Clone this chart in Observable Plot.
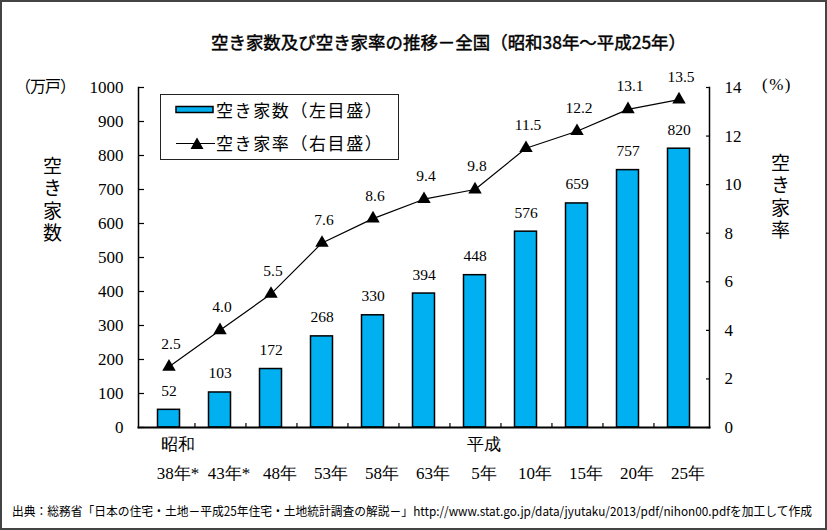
<!DOCTYPE html>
<html><head><meta charset="utf-8">
<script src="https://cdn.jsdelivr.net/npm/d3@7"></script>
<script src="https://cdn.jsdelivr.net/npm/@observablehq/plot@0.6"></script>
<style>
body{margin:0;background:#fff;}
#wrap{position:relative;width:827px;height:530px;overflow:hidden;font-family:"Noto Sans CJK JP","Noto Sans",sans-serif;color:#000;}
#border{position:absolute;left:0;top:0;width:827px;height:530px;box-sizing:border-box;border:2px solid #444;pointer-events:none;}
.abs{position:absolute;white-space:nowrap;}
#title{left:211px;top:30px;line-height:24px;font-size:17.5px;font-weight:normal;-webkit-text-stroke:0.45px #000;transform-origin:left center;}
#footer{left:12px;top:502px;line-height:18px;font-size:12.5px;transform-origin:left center;}
.vert{font-size:19px;line-height:24px;writing-mode:vertical-rl;text-orientation:upright;letter-spacing:3.5px;}
#legend{left:160px;top:94px;width:239px;height:66px;box-sizing:border-box;border:1.5px solid #222;background:#fff;}
.lt{font-size:17px;line-height:22px;letter-spacing:1.6px;}
</style></head><body>
<div id="wrap">
  <div id="title" class="abs">空き家数及び空き家率の推移－全国（昭和38年～平成25年）</div>
  <div id="chart" class="abs" style="left:0;top:60px"></div>
  <div class="abs" style="left:15px;top:74px;font-size:16px;line-height:22px;letter-spacing:-1px">（万戸）</div>
  <div class="abs" style="left:762px;top:74px;font-size:17px;line-height:22px;font-family:'Liberation Serif',serif;letter-spacing:1.5px">(%)</div>
  <div class="abs vert" style="left:40px;top:156px">空き家数</div>
  <div class="abs vert" style="left:768px;top:153px">空き家率</div>
  <div id="legend" class="abs">
    <svg class="abs" style="left:0;top:0" width="236" height="63">
      <rect x="15" y="11.5" width="37" height="6" fill="#00B0F0" stroke="#000" stroke-width="1.5"></rect>
      <line x1="15" x2="54" y1="48.5" y2="48.5" stroke="#000" stroke-width="1.2"></line>
      <path d="M36,42.5 L42.5,54 L29.5,54 Z" fill="#000"></path>
    </svg>
    <div class="abs lt" style="left:55px;top:4px">空き家数（左目盛）</div>
    <div class="abs lt" style="left:55px;top:37px">空き家率（右目盛）</div>
  </div>
  <div id="footer" class="abs">出典：総務省「日本の住宅・土地－平成25年住宅・土地統計調査の解説－」http://www.stat.go.jp/data/jyutaku/2013/pdf/nihon00.pdfを加工して作成</div>
  <div id="border"></div>
</div>
<script>
const years = ["38年*","43年*","48年","53年","58年","63年","5年","10年","15年","20年","25年"];
const eras = ["昭和","","","","","","平成","","","",""];
const vacantHomes = [52,103,172,268,330,394,448,576,659,757,820];
const vacancyRate = [2.5,4.0,5.5,7.6,8.6,9.4,9.8,11.5,12.2,13.1,13.5];
const leftTicks = [0,100,200,300,400,500,600,700,800,900,1000];
const rightTicks = [0,2,4,6,8,10,12,14];
const leftMax = 1000, rightMax = 14;

const data = years.map((y,i)=>({year:y, era:eras[i], homes:vacantHomes[i], rate:vacancyRate[i]}));
const toLeft = r => r * leftMax / rightMax;

const W = 827, H = 430, mL = 138, mR = 118, mT = 27, mB = 63;
const step = (W - mL - mR) / years.length;
const serif = "'Liberation Serif','Times New Roman',serif";

const chart = Plot.plot({
  width: W, height: H,
  marginLeft: mL, marginRight: mR, marginTop: mT, marginBottom: mB,
  style: {background: "transparent", color: "#000"},
  x: {domain: years, padding: 0, axis: null},
  y: {domain: [0, leftMax], axis: null},
  marks: [
    Plot.barY(data, {x: "year", y: "homes", fill: "#00B0F0", stroke: "#000", strokeWidth: 1.5, insetLeft: 14.5, insetRight: 14.5}),
    Plot.text(data, {x: "year", y: "homes", text: d => String(d.homes), dy: -19, fontSize: 15.5, fontFamily: serif}),
    Plot.line(data, {x: "year", y: d => toLeft(d.rate), stroke: "#000", strokeWidth: 1.2}),
    Plot.dot(data, {x: "year", y: d => toLeft(d.rate), symbol: "triangle", r: 5, fill: "#000", stroke: null}),
    Plot.text(data, {x: "year", y: d => toLeft(d.rate), text: d => d.rate.toFixed(1), dy: -23, dx: 2, fontSize: 15.5, fontFamily: serif}),
    Plot.axisY({ticks: leftTicks, tickFormat: d => String(d), tickSize: -6, tickPadding: 21, fontSize: 17, fontFamily: serif, label: null, strokeWidth: 1.2}),
    Plot.axisY({anchor: "right", ticks: rightTicks.map(toLeft), tickFormat: d => String(Math.round(d * rightMax / leftMax)), tickSize: -4, tickPadding: 19, fontSize: 17, fontFamily: serif, label: null, strokeWidth: 1.2}),
    Plot.axisX({ticks: years.slice(0, -1), tickFormat: () => "", tickSize: -4, dx: step / 2, label: null, strokeWidth: 1.2}),
    Plot.axisX({tickSize: 0, tickPadding: 39, dx: 9, fontSize: 17, fontFamily: serif, label: null}),
    Plot.text(data, {x: "year", text: "era", frameAnchor: "bottom", dy: 22, dx: 9, fontSize: 17}),
    Plot.frame({anchor: "left", strokeWidth: 1.5}),
    Plot.frame({anchor: "right", strokeWidth: 1.5}),
    Plot.frame({anchor: "bottom", strokeWidth: 2})
  ]
});
document.getElementById("chart").appendChild(chart);

function fit(id, target){
  const el = document.getElementById(id);
  const w = el.getBoundingClientRect().width;
  if (w > 0) el.style.transform = `scaleX(${target / w})`;
}
fit("title", 475);
fit("footer", 800);
</script>
</body></html>
